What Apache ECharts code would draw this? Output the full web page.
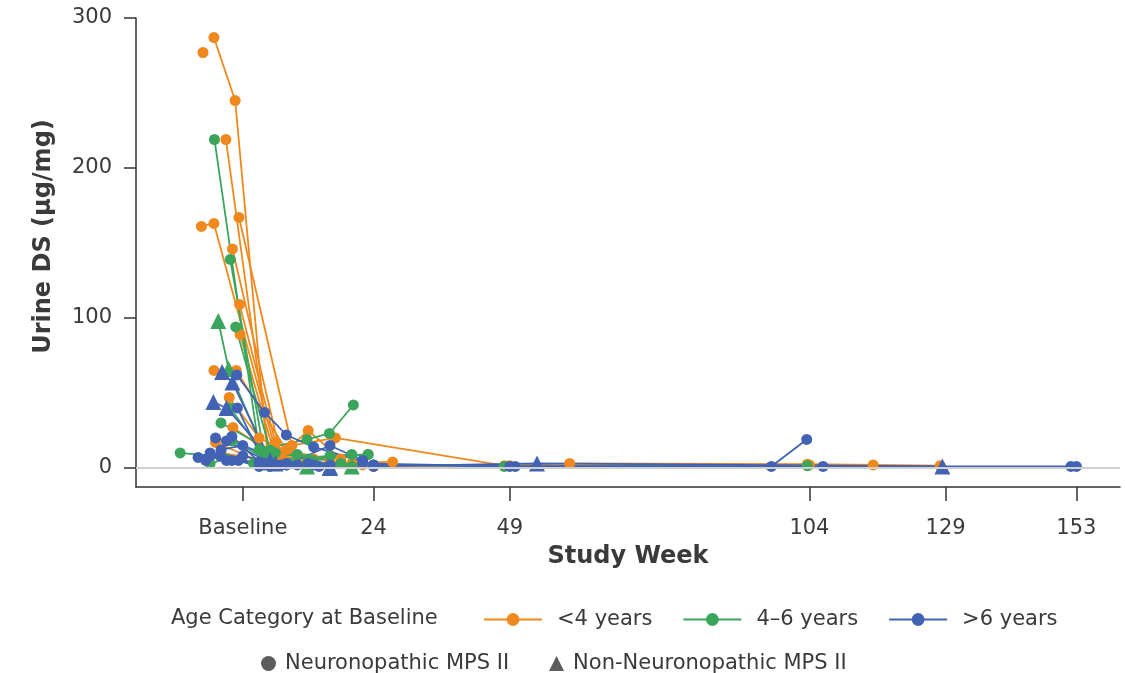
<!DOCTYPE html>
<html>
<head>
    <meta charset="UTF-8">
    <title>Urine DS by Study Week</title>
    <script src="https://cdn.jsdelivr.net/npm/echarts@6/dist/echarts.min.js"></script>
</head>
<body style="margin:0;background:#fff;">
<div id="chart" style="width:1125px; height:673px;"></div>
<script>
    // x axis ticks (week 0 is shown as Baseline)
    var weekTicks = [0, 24, 49, 104, 129, 153];
    var valueTicks = [0, 100, 200, 300];
    var ageGroups = ['<4 years', '4–6 years', '>6 years'];
    var diseaseTypes = ['Neuronopathic MPS II', 'Non-Neuronopathic MPS II'];

    // one entry per patient, points are [week, urine DS]
    // t: 'n' = neuronopathic (circle), 't' = non-neuronopathic (triangle)
    var under4 = [
        {t: 'n', pts: [[-5.3, 287], [-1.4, 245], [4.5, 10], [12, 3], [20, 1.5]]},
        {t: 'n', pts: [[-7.3, 277]]},
        {t: 'n', pts: [[-3.1, 219], [5, 5], [12, 2], [24, 2]]},
        {t: 'n', pts: [[-7.6, 161], [-5.3, 163], [6, 12], [13, 6]]},
        {t: 'n', pts: [[-0.7, 167], [9, 15], [17, 20], [48, 1.5], [60, 3], [103.6, 2.5], [115.7, 2], [128, 1.5]]},
        {t: 'n', pts: [[-1.9, 146], [7, 8], [12, 25], [18, 6]]},
        {t: 'n', pts: [[-0.6, 109], [6, 17], [13, 4], [22, 2]]},
        {t: 'n', pts: [[-0.5, 89], [6, 7], [12, 2], [20, 3]]},
        {t: 'n', pts: [[-5.3, 65], [-1.2, 65], [8, 12], [16, 5]]},
        {t: 'n', pts: [[-2.5, 47], [3, 20], [13, 3], [27.5, 4]]},
        {t: 'n', pts: [[-1.8, 27], [5, 10], [12, 4]]},
        {t: 'n', pts: [[-5, 17], [4, 3], [12, 1], [24, 1]]},
        {t: 'n', pts: [[-4, 10], [6, 4], [16, 1], [49, 1.5], [104, 2]]}
    ];
    var from4to6 = [
        {t: 'n', pts: [[-5.2, 219], [3, 12], [11.8, 19], [15.9, 23], [20.3, 42]]},
        {t: 'n', pts: [[-2.3, 139], [4, 8], [12, 3], [20, 1]]},
        {t: 't', pts: [[-4.5, 98], [-2.6, 66], [4, 10], [11.8, 1], [20, 1]]},
        {t: 'n', pts: [[-1.3, 94], [5, 12], [13, 5], [23, 9]]},
        {t: 'n', pts: [[-2.3, 40], [4, 8], [10, 9], [18, 3]]},
        {t: 'n', pts: [[-11.5, 10], [-6, 8], [2, 3], [48, 1], [103.6, 1.5]]},
        {t: 'n', pts: [[-4, 30], [6, 10], [12, 6], [20, 9]]},
        {t: 'n', pts: [[-2, 18], [5, 5], [16, 8], [23, 9]]},
        {t: 'n', pts: [[-6, 3], [-3, 6], [3, 2], [12, 2]]}
    ];
    var over6 = [
        {t: 'n', pts: [[-1.1, 62], [4, 37], [8, 22], [13, 14], [24, 2]]},
        {t: 't', pts: [[-3.8, 64], [-1.9, 57], [5, 5], [16, 0.5], [54, 3], [128.4, 1]]},
        {t: 't', pts: [[-5.4, 44], [-3, 40], [6, 3], [16, 0]]},
        {t: 'n', pts: [[-1, 40], [4, 3], [8, 2], [16, 15], [22, 5]]},
        {t: 'n', pts: [[-8.2, 7], [-6, 10], [4, 2], [10, 2], [24, 2], [50, 1], [97, 1], [103.5, 19]]},
        {t: 'n', pts: [[-5, 20], [-3, 18], [6, 2], [12, 3], [22, 3], [49, 1], [106.5, 1], [152, 1], [153, 1]]},
        {t: 'n', pts: [[-4, 12], [0, 15], [8, 3], [16, 2]]},
        {t: 'n', pts: [[-2, 21], [3, 4], [8, 2]]},
        {t: 'n', pts: [[-6, 8], [-2, 5], [4, 3], [24, 1]]},
        {t: 'n', pts: [[-3, 5], [0, 8], [7, 2], [13, 2]]},
        {t: 'n', pts: [[-0.8, 5], [5, 1], [14, 1]]},
        {t: 'n', pts: [[-6.8, 5], [-4.2, 8], [3, 1]]}
    ];

    var colors = ['#F0891D', '#3BA55C', '#4262B4'];
    var font = 'DejaVu Sans';
    var textColor = '#3a3a3a';

    function patientSeries(list, name, color) {
        return list.map(function (p) {
            var tri = p.t === 't';
            return {
                name: name,
                type: 'line',
                data: p.pts,
                z: 3,
                symbol: tri ? 'triangle' : 'circle',
                symbolSize: tri ? 16 : 11,
                showAllSymbol: true,
                lineStyle: {width: 1.8, color: color},
                itemStyle: {color: color},
                emphasis: {disabled: true}
            };
        });
    }

    var series = [];
    // legend entries first, so the legend picks their look
    ageGroups.forEach(function (g, i) {
        series.push({
            name: g, type: 'line', data: [], symbol: 'circle', symbolSize: 14,
            lineStyle: {width: 1.8, color: colors[i]}, itemStyle: {color: colors[i]}
        });
    });
    series.push({name: diseaseTypes[0], type: 'scatter', data: [], symbol: 'circle', itemStyle: {color: '#333'}});
    series.push({name: diseaseTypes[1], type: 'scatter', data: [], symbol: 'triangle', itemStyle: {color: '#333'}});
    // light line at zero
    series.push({
        name: 'zero', type: 'line', data: [[0, 0]], symbol: 'none', z: 1,
        lineStyle: {opacity: 0},
        markLine: {
            silent: true, symbol: ['none', 'none'], label: {show: false},
            lineStyle: {color: '#cfcfcf', type: 'solid', width: 2},
            data: [{yAxis: 0}]
        }
    });
    series = series.concat(
        patientSeries(under4, ageGroups[0], colors[0]),
        patientSeries(from4to6, ageGroups[1], colors[1]),
        patientSeries(over6, ageGroups[2], colors[2])
    );

    var chart = echarts.init(document.getElementById('chart'), null, {renderer: 'canvas'});
    var option = {
        animation: false,
        backgroundColor: '#fff',
        textStyle: {fontFamily: font},
        grid: {left: 136, right: 5, top: 18, bottom: 186, containLabel: false},
        xAxis: {
            type: 'value',
            min: -19.6,
            max: 161,
            name: 'Study Week',
            nameLocation: 'middle',
            nameGap: 58,
            nameTextStyle: {fontFamily: font, fontSize: 24, fontWeight: 'bold', color: textColor},
            axisLine: {onZero: false, lineStyle: {color: '#333', width: 1.5}},
            axisTick: {customValues: weekTicks, length: 14, lineStyle: {color: '#333', width: 1.5}},
            axisLabel: {
                customValues: weekTicks, margin: 31, fontSize: 21, color: textColor, fontFamily: font,
                formatter: function (v) { return v === 0 ? 'Baseline' : String(v); }
            },
            splitLine: {show: false}
        },
        yAxis: {
            type: 'value',
            min: -12.7,
            max: 300,
            name: 'Urine DS (µg/mg)',
            nameLocation: 'middle',
            nameGap: 80,
            nameTextStyle: {fontFamily: font, fontSize: 24, fontWeight: 'bold', color: textColor, padding: [0, 0, 0, 32]},
            axisLine: {show: true, onZero: false, lineStyle: {color: '#333', width: 1.5}},
            axisTick: {show: true, customValues: valueTicks, length: 12, lineStyle: {color: '#333', width: 1.5}},
            axisLabel: {customValues: valueTicks, margin: 24, fontSize: 21, color: textColor, fontFamily: font},
            splitLine: {show: false}
        },
        legend: [
            {
                data: ageGroups,
                left: 478,
                top: 604,
                itemWidth: 58,
                itemHeight: 16,
                itemGap: 30,
                selectedMode: false,
                textStyle: {fontFamily: font, fontSize: 21, color: textColor, padding: [0, 0, 0, 10]}
            },
            {
                data: diseaseTypes,
                left: 256,
                top: 648,
                itemWidth: 15,
                itemHeight: 15,
                itemGap: 40,
                selectedMode: false,
                textStyle: {fontFamily: font, fontSize: 21, color: textColor, padding: [0, 0, 0, 4]}
            }
        ],
        graphic: [
            {
                type: 'text', left: 171, top: 608,
                style: {text: 'Age Category at Baseline', fontFamily: font, fontSize: 21, fill: textColor}
            }
        ],
        series: series
    };
    chart.setOption(option);
</script>
</body>
</html>
